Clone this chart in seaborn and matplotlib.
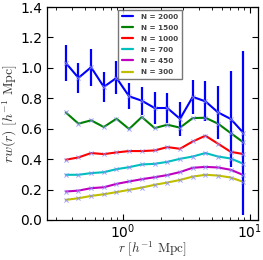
import numpy as np
import pandas as pd
import matplotlib
matplotlib.use("Agg")
import matplotlib.pyplot as plt
import seaborn as sns

r = [0.355, 0.447, 0.562, 0.708, 0.891, 1.12, 1.41, 1.78, 2.24, 2.82,
     3.55, 4.47, 5.62, 7.08, 8.91]

labels = ["N = 2000", "N = 1500", "N = 1000", "N = 700", "N = 450", "N = 300"]
colors = ["#0000ff", "#008000", "#ff0000", "#00bfbf", "#bf00bf", "#bfbf00"]

rw_2000 = [1.033, 0.934, 1.004, 0.875, 0.934, 0.813, 0.784, 0.736, 0.736, 0.665,
           0.809, 0.780, 0.707, 0.664, 0.572]
err_2000 = [0.117, 0.098, 0.123, 0.099, 0.108, 0.086, 0.093, 0.106, 0.096, 0.112,
            0.113, 0.132, 0.174, 0.318, 0.538]
rw_1500 = [0.707, 0.633, 0.655, 0.611, 0.666, 0.598, 0.677, 0.604, 0.626, 0.607,
           0.670, 0.672, 0.633, 0.571, 0.510]
rw_1000 = [0.396, 0.411, 0.440, 0.433, 0.444, 0.453, 0.453, 0.457, 0.479, 0.468,
           0.516, 0.554, 0.501, 0.448, 0.433]
rw_700 = [0.297, 0.297, 0.308, 0.314, 0.334, 0.347, 0.365, 0.369, 0.382, 0.402,
          0.417, 0.440, 0.417, 0.404, 0.369]
rw_450 = [0.187, 0.193, 0.209, 0.215, 0.237, 0.253, 0.268, 0.281, 0.295, 0.315,
          0.343, 0.349, 0.345, 0.330, 0.295]
rw_300 = [0.132, 0.143, 0.158, 0.169, 0.183, 0.198, 0.213, 0.231, 0.246, 0.263,
          0.285, 0.297, 0.292, 0.279, 0.250]

series = [rw_2000, rw_1500, rw_1000, rw_700, rw_450, rw_300]

df = pd.concat([pd.DataFrame({"r": r, "rw": s, "N": lab})
                for s, lab in zip(series, labels)], ignore_index=True)

sns.set_style("ticks")
plt.rcParams["mathtext.fontset"] = "cm"
plt.rcParams["font.family"] = ["DejaVu Sans"]

fig = plt.figure(figsize=(2.63, 2.60), dpi=100)
ax = fig.add_axes([0.179, 0.154, 0.802, 0.819])

sns.lineplot(data=df, x="r", y="rw", hue="N", hue_order=labels,
             palette=colors, ax=ax, linewidth=1.5, legend=True, sort=False)
ax.errorbar(r, rw_2000, yerr=err_2000, fmt="none", ecolor=colors[0],
            elinewidth=1.6, capsize=0, zorder=3)
ax.scatter(df["r"], df["rw"], marker="x", s=9, linewidths=0.7,
           color="#8c8cff", alpha=0.8, zorder=4)

ax.set_xscale("log")
ax.set_xlim(0.253, 11.6)
ax.set_ylim(0.0, 1.4)
ax.set_yticks([0.0, 0.2, 0.4, 0.6, 0.8, 1.0, 1.2, 1.4])
ax.tick_params(which="both", direction="in", top=True, right=True,
               labelsize=10, colors="black")
ax.tick_params(axis="x", which="major", pad=1.5)
ax.tick_params(which="major", length=4, width=0.8)
ax.tick_params(which="minor", length=2, width=0.6)
for sp in ax.spines.values():
    sp.set_color("black")
    sp.set_linewidth(0.9)

ax.set_xlabel(r"$r\ [h^{-1}\ \mathrm{Mpc}]$", fontsize=9.5, color="#333333")
ax.set_ylabel(r"$rw(r)\ [h^{-1}\ \mathrm{Mpc}]$", fontsize=10, color="#333333")
ax.xaxis.set_label_coords(0.5, -0.09)
ax.yaxis.set_label_coords(-0.13, 0.5)

leg = ax.legend(loc="upper center", bbox_to_anchor=(0.488, 1.0),
                prop={"size": 5.2, "weight": "bold"}, frameon=True,
                fancybox=False, edgecolor="#555555", handlelength=1.6,
                labelspacing=0.7, borderpad=0.5, handletextpad=1.1,
                borderaxespad=0.4)
for t in leg.get_texts():
    t.set_color("#444444")
for h in leg.get_lines():
    h.set_linewidth(1.6)

fig.savefig("out.png", dpi=100)
